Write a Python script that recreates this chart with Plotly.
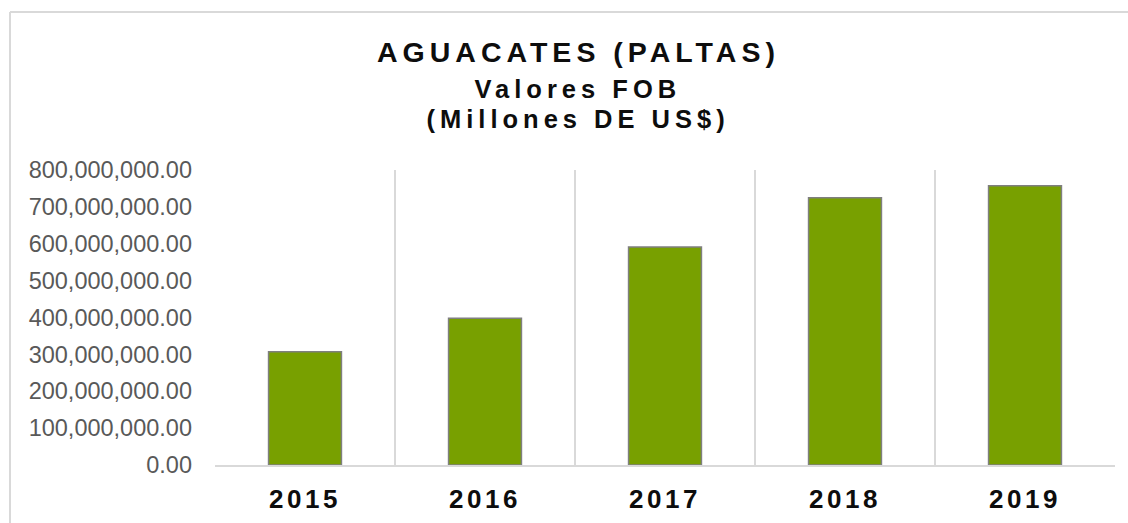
import plotly.graph_objects as go

years = ["2015", "2016", "2017", "2018", "2019"]
fob_values = [307_000_000, 398_000_000, 591_000_000, 725_000_000, 757_000_000]
y_ticks = [0, 100_000_000, 200_000_000, 300_000_000, 400_000_000,
           500_000_000, 600_000_000, 700_000_000, 800_000_000]
title_lines = ["AGUACATES (PALTAS)", "Valores FOB", "(Millones DE US$)"]

W, H = 1128, 523
L, R, T, B = 215, 13, 170, 58
pw, ph = W - L - R, H - T - B

def px_x(x):
    return (x - L) / pw

def px_y(y):
    return (H - B - y) / ph

fig = go.Figure()
fig.add_trace(go.Bar(
    x=years, y=fob_values,
    marker=dict(color="#78A000", line=dict(color="#7F7F7F", width=1.5)),
    hoverinfo="x+y",
))

fig.update_layout(
    width=W, height=H, autosize=False,
    margin=dict(l=L, r=R, t=T, b=B, pad=0, autoexpand=False),
    paper_bgcolor="white", plot_bgcolor="white",
    bargap=0.595,
    showlegend=False,
    font=dict(family="Liberation Sans, Arial, sans-serif"),
    xaxis=dict(
        type="category", tickson="boundaries", showgrid=True,
        gridcolor="#D9D9D9", gridwidth=1.5, automargin=False,
        showline=True, linecolor="#D9D9D9", linewidth=1.5,
        ticks="", ticklabelstandoff=10,
        tickfont=dict(size=26, color="#0D0D0D", weight="bold"),
    ),
    yaxis=dict(
        range=[0, 800_000_000], tickvals=y_ticks, tickformat=",.2f",
        showgrid=False, zeroline=False, showline=False, ticks="",
        ticklabelstandoff=22, automargin=False,
        tickfont=dict(size=23.5, color="#595959"),
    ),
)

# chart border (top & left visible)
fig.add_shape(type="line", xref="paper", yref="paper",
              x0=px_x(10), x1=px_x(1140), y0=px_y(12), y1=px_y(12),
              line=dict(color="#D9D9D9", width=2))
fig.add_shape(type="line", xref="paper", yref="paper",
              x0=px_x(10), x1=px_x(10), y0=px_y(12), y1=px_y(540),
              line=dict(color="#D9D9D9", width=2))

title_sizes = [28.5, 25.5, 25.5]
title_centers = [52, 89, 119]
for txt, sz, yc in zip(title_lines, title_sizes, title_centers):
    fig.add_annotation(
        text=txt, xref="paper", yref="paper",
        x=px_x(578), y=px_y(yc), xanchor="center", yanchor="middle",
        showarrow=False,
        font=dict(size=sz, color="#0D0D0D", weight="bold",
                  family="Liberation Sans, Arial, sans-serif"),
    )

post = """
document.body.style.margin = '0';
document.body.style.padding = '0';
document.body.style.overflow = 'hidden';
var gd = document.getElementById('{plot_id}');
function ls(){
  gd.querySelectorAll('.annotation-text').forEach(function(t){t.style.letterSpacing='5px';});
  gd.querySelectorAll('.xtick text').forEach(function(t){t.style.letterSpacing='3.5px';});
}
ls();
if (gd.on) { gd.on('plotly_afterplot', ls); }
"""

fig.write_html("out.html", post_script=post, config={"displayModeBar": False})
